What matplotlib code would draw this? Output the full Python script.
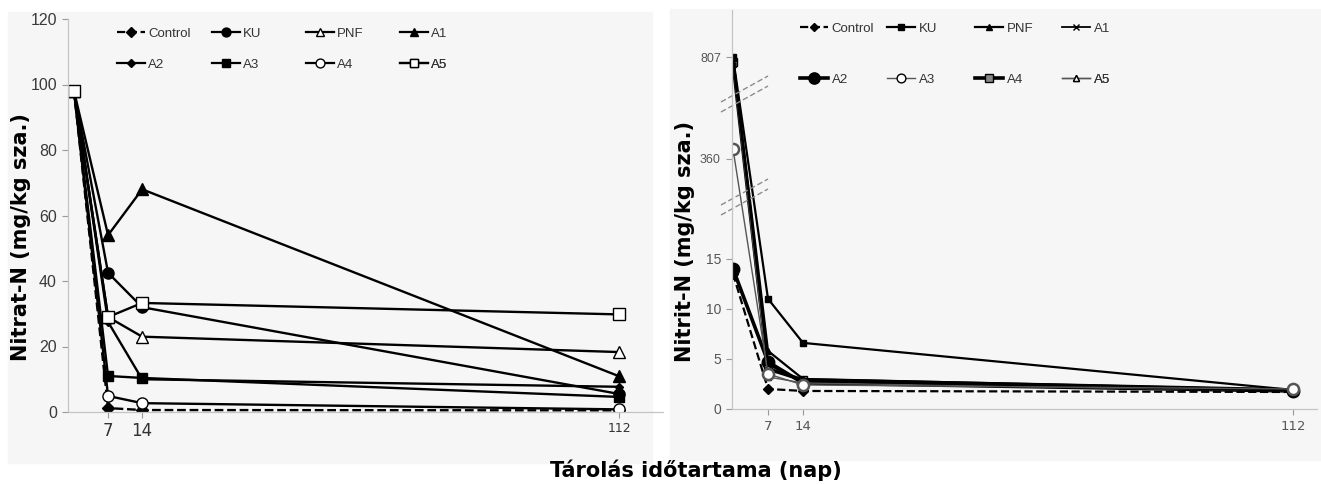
import numpy as np
import matplotlib
matplotlib.use('Agg')
import matplotlib.pyplot as plt
from matplotlib.lines import Line2D
from matplotlib.patches import Rectangle

# ---------------- data ----------------
days = [0, 7, 14, 112]
series = ['Control', 'KU', 'PNF', 'A1', 'A2', 'A3', 'A4', 'A5']

# Nitrat-N (mg/kg sza.)
nitrat_control = [98, 1.2, 0.6, 0.5]
nitrat_ku = [98, 42.5, 32.0, 5.5]
nitrat_pnf = [98, 29.0, 23.0, 18.3]
nitrat_a1 = [98, 54.0, 68.0, 10.9]
nitrat_a2 = [98, 27.5, 10.0, 7.7]
nitrat_a3 = [98, 11.0, 10.4, 4.6]
nitrat_a4 = [98, 4.9, 2.7, 0.8]
nitrat_a5 = [98, 29.0, 33.3, 29.8]

# Nitrit-N (mg/kg sza.)
nitrit_control = [13.5, 2.0, 1.8, 1.7]
nitrit_ku = [807, 11.0, 6.6, 1.9]
nitrit_pnf = [805, 5.8, 3.0, 1.9]
nitrit_a1 = [800, 4.4, 2.8, 1.8]
nitrit_a2 = [14.0, 4.7, 2.6, 1.8]
nitrit_a3 = [381, 3.5, 2.4, 2.0]
nitrit_a4 = [798, 4.0, 2.9, 1.9]
nitrit_a5 = [795, 3.2, 2.6, 1.8]

left_yticks = [0, 20, 40, 60, 80, 100, 120]
right_yticks = [0, 5, 10, 15, 360, 807]
xticks = [7, 14, 112]

nitrat = [nitrat_control, nitrat_ku, nitrat_pnf, nitrat_a1,
          nitrat_a2, nitrat_a3, nitrat_a4, nitrat_a5]
nitrit = [nitrit_control, nitrit_ku, nitrit_pnf, nitrit_a1,
          nitrit_a2, nitrit_a3, nitrit_a4, nitrit_a5]

# ---------------- styles ----------------
K = 'black'
left_styles = [
    dict(ls='--', marker='D', ms=6, mfc=K),
    dict(ls='-', marker='o', ms=8, mfc=K),
    dict(ls='-', marker='^', ms=8, mfc='white'),
    dict(ls='-', marker='^', ms=8, mfc=K),
    dict(ls='-', marker='D', ms=4.5, mfc=K),
    dict(ls='-', marker='s', ms=7, mfc=K),
    dict(ls='-', marker='o', ms=8, mfc='white'),
    dict(ls='-', marker='s', ms=8, mfc='white'),
]
right_styles = [
    dict(ls='--', marker='D', ms=5, mfc=K, color=K, lw=1.6),
    dict(ls='-', marker='s', ms=5, mfc=K, color=K, lw=1.6),
    dict(ls='-', marker='^', ms=5, mfc=K, color=K, lw=1.6),
    dict(ls='-', marker='x', ms=5, mfc=K, color=K, lw=1.3),
    dict(ls='-', marker='o', ms=9, mfc=K, color=K, lw=2.6),
    dict(ls='-', marker='o', ms=7, mfc='white', color='#555555', lw=1.0),
    dict(ls='-', marker='s', ms=6, mfc='#888888', color=K, lw=2.6),
    dict(ls='-', marker='^', ms=5, mfc='white', color='#555555', lw=1.0),
]

W, H = 1321, 484
fig = plt.figure(figsize=(W / 100, H / 100), dpi=100)
fig.patch.set_facecolor('white')

def fx(px):
    return px / W

def fy(py):
    return 1 - py / H

# light gray panel backgrounds
fig.add_artist(Rectangle((fx(8), fy(463)), fx(652 - 8), (463 - 12) / H,
                         transform=fig.transFigure, color='#f6f6f6', zorder=-10))
fig.add_artist(Rectangle((fx(670), fy(460)), fx(1321 - 670), (460 - 9) / H,
                         transform=fig.transFigure, color='#f6f6f6', zorder=-10))

# ---------------- left axes ----------------
axL = fig.add_axes([fx(68), fy(412), fx(663 - 68), (412 - 19) / H])
axL.set_facecolor('none')
for vals, st in zip(nitrat, left_styles):
    axL.plot(days, vals, color=K, lw=1.7, mec=K, mew=1.0, **st)
axL.set_xlim(-1.23, 121)
axL.set_ylim(0, 120)
axL.set_yticks(left_yticks)
axL.set_xticks(xticks)
axL.set_xticklabels([str(t) for t in xticks])

# ---------------- right axes (broken y scale) ----------------
V = [0, 20, 300, 480, 750, 900]
U = [0, 200, 222, 306, 322, 398.3]

def fwd(v):
    return np.interp(v, V, U)

def inv(u):
    return np.interp(u, U, V)

axR = fig.add_axes([fx(732), fy(409), fx(1317 - 732), (409 - 10) / H])
axR.set_facecolor('none')
axR.set_yscale('function', functions=(fwd, inv))
order = [4, 6, 7, 3, 2, 0, 1, 5]
for i in order:
    st = dict(right_styles[i])
    mew = 1.0
    if series[i] == 'A3':
        st['ms'] = 8
        mew = 1.8
        st['mec'] = '#555555'
    else:
        st['mec'] = K
    axR.plot(days, nitrit[i], mew=mew, **st)
axR.set_xlim(-0.2, 116.8)
axR.set_ylim(0, 901)
axR.set_yticks(right_yticks)
axR.set_yticklabels([str(t) for t in right_yticks])
axR.set_xticks(xticks)
axR.set_xticklabels([str(t) for t in xticks])

for ax in (axL, axR):
    for s in ('top', 'right'):
        ax.spines[s].set_visible(False)
    for s in ('left', 'bottom'):
        ax.spines[s].set_color('#c4c4c4')
        ax.spines[s].set_linewidth(0.9)
    ax.tick_params(axis='both', color='#9a9a9a', length=4, width=0.8)

axL.tick_params(axis='y', labelsize=11.5, labelcolor='#3a3a3a', pad=4)
for lbl in axL.get_yticklabels():
    lbl.set_family('Liberation Sans')
axL.tick_params(axis='x', labelcolor='#333333', pad=3)
for lbl in axL.get_xticklabels():
    lbl.set_family('DejaVu Sans')
    lbl.set_fontsize(9 if lbl.get_text() == '112' else 12)

axR.tick_params(axis='y', labelsize=10, labelcolor='#555555', pad=4)
for lbl in axR.get_yticklabels():
    lbl.set_family('Liberation Sans')
    if lbl.get_text() in ('360', '807'):
        lbl.set_fontsize(9)
axR.tick_params(axis='x', labelsize=9.5, labelcolor='#555555', pad=4)
for lbl in axR.get_xticklabels():
    lbl.set_family('DejaVu Sans')

# break marks on right y axis (pixel offsets from axis origin)
def brk(ax, ucenter):
    hpx = 399.0
    wpx = 585.0
    for off in (-5, 5):
        x0, x1 = -11 / wpx, 36 / wpx
        y0, y1 = (ucenter + off - 12) / hpx, (ucenter + off + 14) / hpx
        ax.plot([x0, x1], [y0, y1], transform=ax.transAxes, color='#8c8c8c',
                ls=(0, (4, 2)), lw=1.0, clip_on=False)

brk(axR, 211)
brk(axR, 314)

# ---------------- legends (one entry each, placed on a fixed grid) ----------------
def place_legends(ax, styles, col_px, row_px, ax_left, ax_bottom, ax_w, ax_h,
                  handlelength, textpad, default_kw, mscale):
    for i, (name, st) in enumerate(zip(series, styles)):
        col = i % 4
        row = i // 4
        kw = dict(default_kw)
        kw.update(st)
        h = Line2D([], [], mec=K, mew=1.0, **kw)
        xa = (col_px[col] - ax_left) / ax_w
        ya = (ax_bottom - row_px[row]) / ax_h
        leg = ax.legend([h], [name], loc='center left', bbox_to_anchor=(xa, ya),
                        frameon=False, borderpad=0, borderaxespad=0,
                        handlelength=handlelength, handletextpad=textpad,
                        markerscale=mscale,
                        prop={'family': 'Liberation Sans', 'size': 9.5})
        for t in leg.get_texts():
            t.set_color('#333333')
        ax.add_artist(leg)

place_legends(axL, left_styles, [117, 212, 306, 400], [34, 65],
              68, 412, 595, 393, 2.1, 0.25, dict(color=K, lw=1.6), 0.8)
place_legends(axR, right_styles, [800, 887, 975, 1062], [29, 80],
              732, 409, 585, 399, 2.1, 0.3, dict(), 0.9)

# ---------------- axis titles ----------------
fig.text(fx(21), fy(237), 'Nitrat-N (mg/kg sza.)', rotation=90, ha='center',
         va='center', fontsize=15, fontweight='bold', family='DejaVu Sans')
fig.text(fx(685), fy(241), 'Nitrit-N (mg/kg sza.)', rotation=90, ha='center',
         va='center', fontsize=15, fontweight='bold', family='DejaVu Sans')
fig.text(fx(696), fy(470), 'Tárolás időtartama (nap)', ha='center', va='center',
         fontsize=15, fontweight='bold', family='DejaVu Sans')

fig.savefig('out.png', dpi=100, facecolor='white')
